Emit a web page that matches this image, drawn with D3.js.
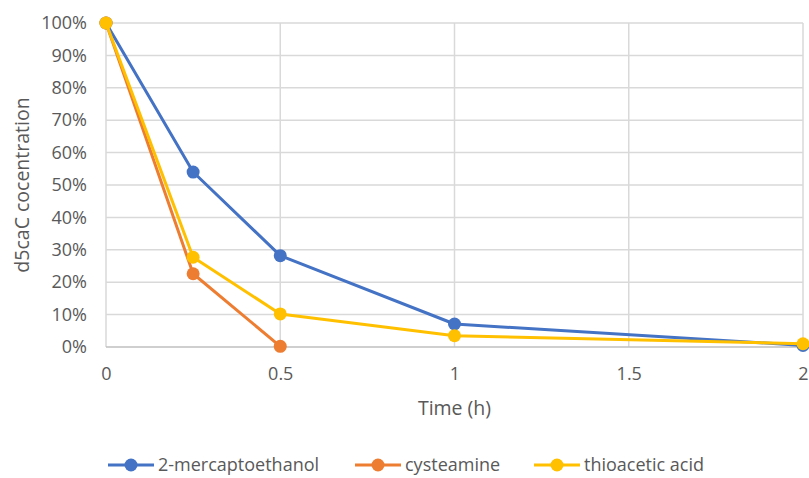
<!DOCTYPE html>
<html>
<head>
<meta charset="utf-8">
<script src="https://cdn.jsdelivr.net/npm/d3@7"></script>
<style>
  html, body { margin: 0; padding: 0; background: #fff; }
  svg { display: block; font-family: "Open Sans", "Liberation Sans", sans-serif; }
</style>
</head>
<body>
<svg id="chart" width="809" height="478"></svg>
<script>
// Time points (h)
const times = [0, 0.25, 0.5, 1, 2];
// Remaining d5caC fraction for each reagent
const mercaptoethanol = [1.00, 0.54, 0.282, 0.071, 0.005];
const cysteamine = [1.00, 0.226, 0.002];
const thioacetic = [1.00, 0.277, 0.102, 0.035, 0.010];

const seriesNames = ["2-mercaptoethanol", "cysteamine", "thioacetic acid"];
const seriesValues = [mercaptoethanol, cysteamine, thioacetic];
const seriesColors = ["#4472C4", "#ED7D31", "#FFC000"];

const xTicks = [0, 0.5, 1, 1.5, 2];
const yTicks = [0, 0.1, 0.2, 0.3, 0.4, 0.5, 0.6, 0.7, 0.8, 0.9, 1.0];

const svg = d3.select("#chart");
const margin = { left: 106, right: 6, top: 23, bottom: 131 };
const W = 809, H = 478;
const textColor = "#595959";

const x = d3.scaleLinear().domain([0, 2]).range([margin.left, W - margin.right]);
const y = d3.scaleLinear().domain([0, 1]).range([H - margin.bottom, margin.top]);

// Horizontal gridlines
svg.append("g")
  .selectAll("line")
  .data(yTicks.filter(d => d > 0))
  .join("line")
  .attr("x1", x(0)).attr("x2", x(2))
  .attr("y1", d => y(d)).attr("y2", d => y(d))
  .attr("stroke", "#D9D9D9").attr("stroke-width", 1.5);

// Vertical gridlines
svg.append("g")
  .selectAll("line")
  .data(xTicks)
  .join("line")
  .attr("x1", d => x(d)).attr("x2", d => x(d))
  .attr("y1", y(0)).attr("y2", y(1))
  .attr("stroke", "#D9D9D9").attr("stroke-width", 1.5);

// Bottom axis line
svg.append("line")
  .attr("x1", x(0)).attr("x2", x(2))
  .attr("y1", y(0)).attr("y2", y(0))
  .attr("stroke", "#BFBFBF").attr("stroke-width", 1.5);

// Y tick labels
const yAxis = d3.axisLeft(y).tickValues(yTicks).tickFormat(d3.format(".0%")).tickSize(0).tickPadding(19);
const gy = svg.append("g").attr("transform", `translate(${x(0)},0)`).call(yAxis);
gy.select(".domain").remove();
gy.selectAll("text").attr("fill", textColor).style("font-size", "18px").style("font-family", "\"Open Sans\", sans-serif");

// X tick labels
const xAxis = d3.axisBottom(x).tickValues(xTicks).tickFormat(d => String(d)).tickSize(0).tickPadding(20);
const gx = svg.append("g").attr("transform", `translate(0,${y(0)})`).call(xAxis);
gx.select(".domain").remove();
gx.selectAll("text").attr("fill", textColor).style("font-size", "18px").style("font-family", "\"Open Sans\", sans-serif");

// Axis titles
svg.append("text")
  .attr("x", x(1)).attr("y", 415)
  .attr("text-anchor", "middle")
  .attr("fill", textColor).style("font-size", "19.5px")
  .text("Time (h)");

svg.append("text")
  .attr("transform", `translate(29,${(y(0) + y(1)) / 2}) rotate(-90)`)
  .attr("text-anchor", "middle")
  .attr("fill", textColor).style("font-size", "19.5px")
  .text("d5caC cocentration");

// Series lines and markers
const line = d3.line().x(d => x(d[0])).y(d => y(d[1]));
seriesValues.forEach((vals, i) => {
  const pts = vals.map((v, j) => [times[j], v]);
  const g = svg.append("g");
  g.append("path")
    .datum(pts)
    .attr("d", line)
    .attr("fill", "none")
    .attr("stroke", seriesColors[i])
    .attr("stroke-width", 3)
    .attr("stroke-linejoin", "round");
  g.selectAll("circle")
    .data(pts)
    .join("circle")
    .attr("cx", d => x(d[0])).attr("cy", d => y(d[1]))
    .attr("r", 6.5)
    .attr("fill", seriesColors[i]);
});

// Legend
const legendX = [108, 355, 534];
const legendY = 465;
seriesNames.forEach((name, i) => {
  const g = svg.append("g").attr("transform", `translate(${legendX[i]},${legendY})`);
  g.append("line").attr("x1", 0).attr("x2", 46).attr("y1", 0).attr("y2", 0)
    .attr("stroke", seriesColors[i]).attr("stroke-width", 3);
  g.append("circle").attr("cx", 23).attr("cy", 0).attr("r", 6.5).attr("fill", seriesColors[i]);
  g.append("text").attr("x", 50).attr("y", 0).attr("dy", "0.35em")
    .attr("fill", textColor).style("font-size", "18px")
    .text(name);
});
</script>
</body>
</html>
